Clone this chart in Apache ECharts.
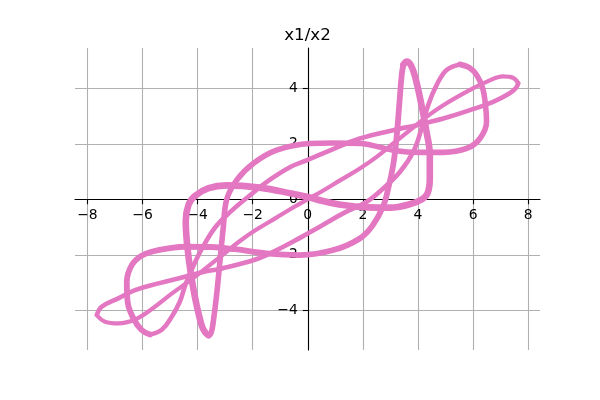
<!DOCTYPE html>
<html>
<head>
<meta charset="utf-8">
<script src="https://cdn.jsdelivr.net/npm/echarts@6/dist/echarts.min.js"></script>
<style>html,body{margin:0;padding:0;background:#fff}#c{width:600px;height:400px}</style>
</head>
<body>
<div id="c"></div>
<script>
// trajectory, in consecutive pieces of [x1, x2]
var armUpRight = [[-5.73,-4.87],[-5.3,-4.7],[-4.95,-4.25],[-4.65,-3.7],[-4.45,-3.1],[-4.2,-2.5],[-3.85,-1.8],[-3.35,-1.0],[-2.75,-0.4],[-2.15,0.1],[-1.5,0.62],[-0.6,1.18],[0,1.42],[0.9,1.8],[1.89,2.19],[3.1,2.49],[3.95,2.67],[4.92,2.91],[5.89,3.21],[6.73,3.51],[7.3,3.8],[7.55,4.0],[7.64,4.18]];
var diagonal = [[7.45,4.38],[7.09,4.43],[6.49,4.23],[5.89,3.94],[4.92,3.39],[4.31,2.97],[3.71,2.49],[3.1,2.01],[2.5,1.53],[1.89,1.11],[1.17,0.68],[0.5,0.28],[0,0],[-0.5,-0.28],[-1.17,-0.68],[-1.89,-1.11],[-2.5,-1.53],[-3.1,-2.01],[-3.71,-2.49],[-4.31,-2.95],[-4.94,-3.4],[-5.66,-3.95],[-6.27,-4.33],[-6.88,-4.47],[-7.36,-4.41],[-7.66,-4.17]];
var armDownLeft = [[-7.48,-3.87],[-6.88,-3.57],[-6.27,-3.27],[-5.42,-3.03],[-4.46,-2.79],[-3.8,-2.62],[-3.1,-2.49],[-1.9,-2.17],[-1.2,-1.87],[-0.3,-1.4],[0.5,-0.95],[1.3,-0.5],[2.14,-0.09],[2.74,0.39],[3.35,0.99],[3.83,1.71],[4.13,2.55],[4.37,3.39],[4.68,4.12],[5.04,4.66],[5.52,4.86]];
var roundLobe = [[5.85,4.75],[6.13,4.48],[6.35,4.0],[6.45,3.4],[6.49,2.79],[6.25,2.19],[5.77,1.83],[4.92,1.69],[4.07,1.69],[3.1,1.77],[1.89,2.01],[0.9,2.03],[0.08,2.01],[-1.13,1.77],[-1.98,1.29],[-2.58,0.69],[-2.94,0.0],[-3.07,-1.05],[-3.19,-2.25],[-3.31,-3.45],[-3.43,-4.41],[-3.5,-4.78],[-3.6,-4.92],[-3.72,-4.8]];
var band = [[-3.85,-4.55],[-4.08,-3.6],[-4.25,-2.65],[-4.38,-1.62],[-4.43,-0.78],[-4.33,-0.2],[-4.1,0.12],[-3.6,0.4],[-2.95,0.5],[-1.75,0.42],[-0.55,0.2],[0,0.08],[0.55,-0.06],[1.2,-0.2],[2.2,-0.29],[3.0,-0.3],[3.7,-0.18],[4.15,0.0],[4.35,0.22],[4.43,0.75],[4.43,1.59],[4.31,2.43],[4.13,3.39],[3.9,4.4],[3.75,4.82],[3.6,4.96],[3.47,4.85]];
var lowerArc = [[3.41,4.48],[3.32,3.39],[3.22,2.19],[3.1,1.23],[2.92,0.39],[2.74,-0.25],[2.35,-0.95],[1.89,-1.41],[0.93,-1.83],[-0.28,-2.01],[-1.5,-1.95],[-2.64,-1.8],[-3.5,-1.72],[-4.46,-1.71],[-5.06,-1.77],[-5.6,-1.87],[-6.03,-2.03],[-6.39,-2.37],[-6.57,-2.97],[-6.54,-3.69],[-6.33,-4.29],[-6.03,-4.71],[-5.73,-4.87]];

var xTicks = [-8,-6,-4,-2,0,2,4,6,8];
var yTicks = [-4,-2,0,2,4];

var pieces = [[armUpRight, 4.6], [diagonal, 4.2], [armDownLeft, 4.6], [roundLobe, 5.6], [band, 6.6], [lowerArc, 5.8]];

var chart = echarts.init(document.getElementById('c'), null, {renderer:'canvas'});
var font = 'DejaVu Sans';
function minus(v){ return String(v).replace('-', '\u2212'); }
var series = pieces.map(function(p, i){
  var prev = i > 0 ? pieces[i-1][0] : pieces[pieces.length-1][0];
  var data = [prev[prev.length-1]].concat(p[0]);
  return {
    type: 'line', data: data, showSymbol: false, smooth: 0.4,
    lineStyle: {color: '#e377c2', width: p[1], cap: 'round', join: 'round'},
    z: 5
  };
});
chart.setOption({
  animation: false,
  backgroundColor: '#fff',
  title: {
    text: 'x1/x2', left: 307.5, top: 27, textAlign: 'center', padding: 0,
    textStyle: {fontFamily: font, fontSize: 16.7, fontWeight: 'normal', color: '#000'}
  },
  grid: {left: 75, right: 60, top: 48, bottom: 50, containLabel: false},
  xAxis: {
    type: 'value', min: -8.45, max: 8.43, minInterval: 2, maxInterval: 2,
    position: 'bottom', offset: -150.8,
    axisLine: {show: true, onZero: false, lineStyle: {color: '#000', width: 1.1}},
    axisTick: {show: true, length: 5, inside: false, customValues: xTicks, lineStyle: {color: '#000', width: 1.1}},
    axisLabel: {show: true, customValues: xTicks, margin: 9, color: '#000', fontFamily: font, fontSize: 13.9, formatter: minus},
    splitLine: {show: true, lineStyle: {color: '#b0b0b0', width: 1.1}}
  },
  yAxis: {
    type: 'value', min: -5.43, max: 5.45, minInterval: 2, maxInterval: 2,
    position: 'left', offset: -232.8,
    axisLine: {show: true, onZero: false, lineStyle: {color: '#000', width: 1.1}},
    axisTick: {show: true, length: 5, inside: false, customValues: yTicks, lineStyle: {color: '#000', width: 1.1}},
    axisLabel: {show: true, customValues: yTicks, margin: 10, color: '#000', fontFamily: font, fontSize: 13.9, formatter: minus},
    splitLine: {show: true, lineStyle: {color: '#b0b0b0', width: 1.1}}
  },
  series: series
});
</script>
</body>
</html>
